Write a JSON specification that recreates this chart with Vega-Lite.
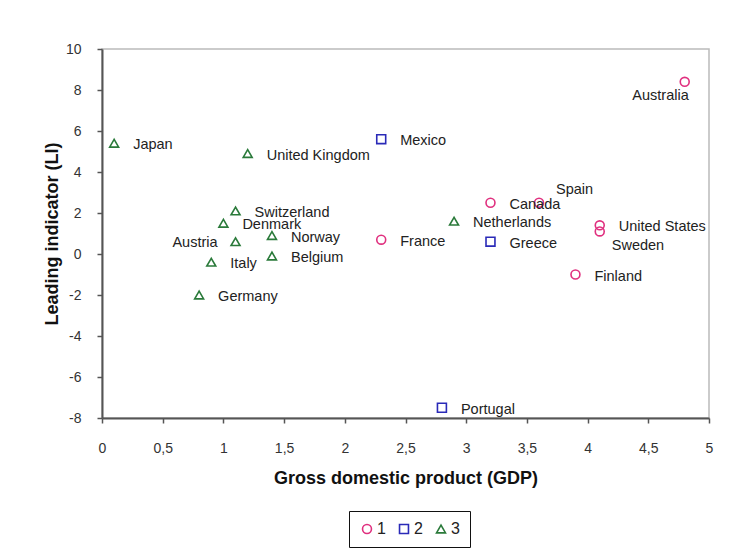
{
  "$schema": "https://vega.github.io/schema/vega-lite/v6.json",
  "width": 607,
  "height": 369,
  "autosize": "none",
  "padding": {"left": 102, "top": 49, "right": 24, "bottom": 140},
  "background": "white",
  "config": {
    "font": "Liberation Sans",
    "view": {"stroke": "#bbbbbb", "strokeWidth": 1.5},
    "axis": {
      "grid": false,
      "domainColor": "#555555",
      "domainWidth": 2,
      "tickColor": "#555555",
      "tickWidth": 1.5,
      "tickSize": 5,
      "labelFlush": false,
      "labelFont": "Liberation Sans",
      "labelFontSize": 14,
      "labelColor": "#333333",
      "titleFont": "Liberation Sans",
      "titleFontSize": 18,
      "titleFontWeight": "bold",
      "titleColor": "#111111"
    }
  },
  "data": {
    "values": [
      {"country": "Japan", "gdp": 0.1, "li": 5.4, "group": "3"},
      {"country": "United Kingdom", "gdp": 1.2, "li": 4.9, "group": "3"},
      {"country": "Switzerland", "gdp": 1.1, "li": 2.1, "group": "3"},
      {"country": "Denmark", "gdp": 1.0, "li": 1.5, "group": "3"},
      {"country": "Austria", "gdp": 1.1, "li": 0.6, "group": "3"},
      {"country": "Norway", "gdp": 1.4, "li": 0.9, "group": "3"},
      {"country": "Italy", "gdp": 0.9, "li": -0.4, "group": "3"},
      {"country": "Belgium", "gdp": 1.4, "li": -0.1, "group": "3"},
      {"country": "Germany", "gdp": 0.8, "li": -2.0, "group": "3"},
      {"country": "Netherlands", "gdp": 2.9, "li": 1.6, "group": "3"},
      {"country": "Mexico", "gdp": 2.3, "li": 5.6, "group": "2"},
      {"country": "Greece", "gdp": 3.2, "li": 0.6, "group": "2"},
      {"country": "Portugal", "gdp": 2.8, "li": -7.5, "group": "2"},
      {"country": "France", "gdp": 2.3, "li": 0.7, "group": "1"},
      {"country": "Canada", "gdp": 3.2, "li": 2.5, "group": "1"},
      {"country": "Spain", "gdp": 3.6, "li": 2.5, "group": "1"},
      {"country": "United States", "gdp": 4.1, "li": 1.4, "group": "1"},
      {"country": "Sweden", "gdp": 4.1, "li": 1.1, "group": "1"},
      {"country": "Finland", "gdp": 3.9, "li": -1.0, "group": "1"},
      {"country": "Australia", "gdp": 4.8, "li": 8.4, "group": "1"}
    ]
  },
  "encoding": {
    "x": {
      "field": "gdp", "type": "quantitative",
      "scale": {"domain": [0, 5], "nice": false, "zero": false},
      "axis": {
        "title": "Gross domestic product (GDP)",
        "values": [0, 0.5, 1, 1.5, 2, 2.5, 3, 3.5, 4, 4.5, 5],
        "labelExpr": "replace(format(datum.value, '~g'), '.', ',')",
        "labelPadding": 18,
        "titlePadding": 14
      }
    },
    "y": {
      "field": "li", "type": "quantitative",
      "scale": {"domain": [-8, 10], "nice": false, "zero": false},
      "axis": {
        "title": "Leading indicator (LI)",
        "values": [-8, -6, -4, -2, 0, 2, 4, 6, 8, 10],
        "labelExpr": "replace(datum.label, '\u2212', '-')",
        "labelPadding": 16,
        "titlePadding": 4
      }
    }
  },
  "layer": [
    {
      "mark": {"type": "point", "filled": false, "strokeWidth": 1.6, "size": 80, "opacity": 1},
      "encoding": {
        "color": {
          "field": "group", "type": "nominal",
          "scale": {"domain": ["1", "2", "3"], "range": ["#e0307f", "#2a2ab8", "#2a7a3a"]},
          "legend": {
            "title": null,
            "orient": "none",
            "legendX": 247,
            "legendY": 462,
            "direction": "horizontal",
            "strokeColor": "#111111",
            "padding": 10,
            "labelFontSize": 16,
            "labelColor": "#222222",
            "labelOffset": 2,
            "columnPadding": 10,
            "symbolSize": 80,
            "symbolStrokeWidth": 1.6
          }
        },
        "shape": {
          "field": "group", "type": "nominal",
          "scale": {"domain": ["1", "2", "3"], "range": ["circle", "square", "triangle-up"]},
          "legend": {"title": null}
        }
      }
    },
    {
      "transform": [{"filter": {"not": {"field": "country", "oneOf": ["Austria", "Spain", "Sweden", "Australia"]}}}],
      "mark": {"type": "text", "align": "left", "baseline": "middle", "dx": 19, "dy": 2, "fontSize": 14.5, "color": "#222222"},
      "encoding": {"text": {"field": "country"}}
    },
    {
      "transform": [{"filter": {"field": "country", "oneOf": ["Austria"]}}],
      "mark": {"type": "text", "align": "right", "baseline": "middle", "dx": -18, "dy": 1, "fontSize": 14.5, "color": "#222222"},
      "encoding": {"text": {"field": "country"}}
    },
    {
      "transform": [{"filter": {"field": "country", "oneOf": ["Spain"]}}],
      "mark": {"type": "text", "align": "left", "baseline": "middle", "dx": 17, "dy": -13, "fontSize": 14.5, "color": "#222222"},
      "encoding": {"text": {"field": "country"}}
    },
    {
      "transform": [{"filter": {"field": "country", "oneOf": ["Sweden"]}}],
      "mark": {"type": "text", "align": "left", "baseline": "middle", "dx": 12, "dy": 15, "fontSize": 14.5, "color": "#222222"},
      "encoding": {"text": {"field": "country"}}
    },
    {
      "transform": [{"filter": {"field": "country", "oneOf": ["Australia"]}}],
      "mark": {"type": "text", "align": "right", "baseline": "middle", "dx": 4, "dy": 14, "fontSize": 14.5, "color": "#222222"},
      "encoding": {"text": {"field": "country"}}
    }
  ]
}
